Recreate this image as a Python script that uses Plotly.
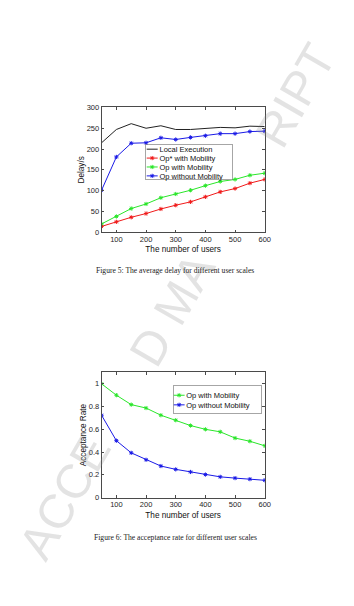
import math
import plotly.graph_objects as go

# ---------------- data ----------------
users = [50, 100, 150, 200, 250, 300, 350, 400, 450, 500, 550, 600]

delay_local = [215, 247, 261, 250, 256, 247, 247, 249, 252, 251, 255, 254]
delay_opstar_mob = [14, 25, 36, 45, 56, 65, 73, 85, 97, 105, 118, 127]
delay_op_mob = [20, 38, 57, 68, 83, 92, 101, 112, 122, 127, 137, 142]
delay_op_nomob = [101, 181, 214, 215, 227, 223, 228, 232, 237, 237, 242, 243]

acc_op_mob = [1.0, 0.90, 0.817, 0.787, 0.724, 0.68, 0.633, 0.60, 0.578, 0.523, 0.495, 0.455]
acc_op_nomob = [0.724, 0.50, 0.393, 0.332, 0.277, 0.248, 0.225, 0.202, 0.182, 0.171, 0.162, 0.152]

x_ticks = [100, 200, 300, 400, 500, 600]
delay_ticks = [0, 50, 100, 150, 200, 250, 300]
acc_ticks = [0, 0.2, 0.4, 0.6, 0.8, 1.0]
acc_ticktext = ["0", "0.2", "0.4", "0.6", "0.8", "1"]

names_delay = ["Local Execution", "Op* with Mobility", "Op with Mobility", "Op without Mobility"]
names_acc = ["Op with Mobility", "Op without Mobility"]

caption5 = "Figure 5: The average delay for different user scales"
caption6 = "Figure 6: The acceptance rate for different user scales"
watermark = "ACCEPTED MANUSCRIPT"

# ---------------- style ----------------
W, H = 354, 606
SANS = "Liberation Sans"
SERIF = "Liberation Serif"
TXT = "#262626"
AXC = "#4a4a4a"
C_BLACK = "#222222"
C_RED = "#f01a1a"
C_GREEN = "#2ae62a"
C_BLUE = "#1a1ae6"


def px_x(v):
    return v / W


def px_y(v):
    return 1 - v / H


fig = go.Figure()

mk = dict(symbol="asterisk-open", size=3.5, line=dict(width=1))


def add_line(x, y, name, color, xa, ya, legend, marker=True):
    fig.add_trace(go.Scatter(
        x=x, y=y, name=name, xaxis=xa, yaxis=ya, legend=legend,
        mode="lines+markers" if marker else "lines",
        line=dict(color=color, width=1),
        marker=dict(color=color, **mk) if marker else None,
    ))


add_line(users, delay_local, names_delay[0], C_BLACK, "x", "y", "legend", marker=False)
add_line(users, delay_opstar_mob, names_delay[1], C_RED, "x", "y", "legend")
add_line(users, delay_op_mob, names_delay[2], C_GREEN, "x", "y", "legend")
add_line(users, delay_op_nomob, names_delay[3], C_BLUE, "x", "y", "legend")

add_line(users, acc_op_mob, names_acc[0], C_GREEN, "x2", "y2", "legend2")
add_line(users, acc_op_nomob, names_acc[1], C_BLUE, "x2", "y2", "legend2")

axis_common = dict(
    showline=True, mirror="ticks", linecolor=AXC, linewidth=0.7,
    ticks="inside", ticklen=2.5, tickwidth=0.6, tickcolor=AXC,
    showgrid=False, zeroline=False,
    tickfont=dict(family=SANS, size=7.5, color=TXT),
)
title_font = dict(family=SANS, size=8.2, color="#111111")

xdom = [px_x(103.3), px_x(269.3)]

fig.update_layout(
    width=W, height=H,
    margin=dict(l=0, r=0, t=0, b=0),
    paper_bgcolor="white", plot_bgcolor="white",
    xaxis=dict(domain=xdom, range=[50, 600], tickvals=x_ticks, anchor="y",
               title=dict(text="The number of users", font=title_font, standoff=3),
               **axis_common),
    yaxis=dict(domain=[px_y(231.7), px_y(105)], range=[0, 300], tickvals=delay_ticks, anchor="x",
               title=dict(text="Delay/s", font=title_font, standoff=0),
               **axis_common),
    xaxis2=dict(domain=xdom, range=[50, 600], tickvals=x_ticks, anchor="y2",
                title=dict(text="The number of users", font=title_font, standoff=3),
                **axis_common),
    yaxis2=dict(domain=[px_y(501), px_y(374)], range=[0, 1.1], tickvals=acc_ticks,
                ticktext=acc_ticktext, anchor="x2",
                title=dict(text="Acceptance Rate", font=title_font, standoff=0),
                **axis_common),
    legend=dict(x=px_x(147.7), y=px_y(142.7), xanchor="left", yanchor="top",
                bgcolor="white", bordercolor="#6a6a6a", borderwidth=0.6,
                font=dict(family=SANS, size=7.5, color="#111111")),
    legend2=dict(x=px_x(175.8), y=px_y(387.3), xanchor="left", yanchor="top",
                 bgcolor="white", bordercolor="#6a6a6a", borderwidth=0.6,
                 font=dict(family=SANS, size=7.5, color="#111111")),
    showlegend=True,
)

# ---------------- watermark (visible parts only) ----------------
adv = {'A': .667, 'C': .722, 'E': .667, 'P': .667, 'T': .611, 'D': .722, ' ': .278,
       'M': .833, 'N': .722, 'U': .722, 'S': .667, 'R': .722, 'I': .278}
WM_F = 48
WM_ANG = 60
WM_CX, WM_CY = 180, 302
total = sum(adv[c] for c in watermark)
dx, dy = math.cos(math.radians(WM_ANG)), -math.sin(math.radians(WM_ANG))
for i, j in [(0, 4), (7, 11), (15, 19)]:
    s = sum(adv[c] for c in watermark[:i])
    g = sum(adv[c] for c in watermark[i:j])
    off = (s + g / 2 - total / 2) * WM_F
    cx, cy = WM_CX + off * dx, WM_CY + off * dy
    fig.add_annotation(
        text=watermark[i:j], x=px_x(cx), y=px_y(cy), xref="paper", yref="paper",
        xanchor="center", yanchor="middle", showarrow=False, textangle=-WM_ANG,
        font=dict(family=SANS, size=WM_F, color="rgba(140,140,140,0.24)"),
    )

# ---------------- captions ----------------
fig.add_annotation(text=caption5, x=px_x(178.3), y=px_y(270.7), xref="paper", yref="paper",
                   xanchor="center", yanchor="middle", showarrow=False,
                   font=dict(family=SERIF, size=7.6, color="#1a1a1a"))
fig.add_annotation(text=caption6, x=px_x(179), y=px_y(542), xref="paper", yref="paper",
                   xanchor="center", yanchor="middle", showarrow=False,
                   font=dict(family=SERIF, size=7.6, color="#1a1a1a"))

# ---------------- compact legend layout (MATLAB-like) ----------------
post = r"""
var gd = document.getElementById('{plot_id}');
var specs = [
  {w: 86.6, h: 35.0, first: 4.6, gap: 8.9, x0: 1.5, len: 11, tx: 14.3},
  {w: 88.0, h: 27.5, first: 9.7, gap: 9.6, x0: 0.8, len: 11, tx: 13.4}
];
function fixLegends(){
  var legs = [];
  gd.querySelectorAll('g.infolayer > g').forEach(function(g){
    if(g.querySelector(':scope > rect.bg') && g.querySelector('g.traces')) legs.push(g);
  });
  legs.sort(function(a, b){
    return a.getBoundingClientRect().top - b.getBoundingClientRect().top;
  });
  legs.forEach(function(lg, li){
    var s = specs[Math.min(li, specs.length - 1)];
    lg.querySelectorAll('g.traces').forEach(function(t, i){
      t.setAttribute('transform', 'translate(0,' + (s.first + s.gap * i) + ')');
      t.querySelectorAll('path.js-line').forEach(function(p){
        p.setAttribute('d', 'M' + s.x0 + ',0h' + s.len);
      });
      t.querySelectorAll('path.scatterpts').forEach(function(p){
        p.setAttribute('transform', 'translate(' + (s.x0 + s.len / 2) + ',0)');
      });
      t.querySelectorAll('text').forEach(function(tx){
        tx.removeAttribute('transform');
        tx.setAttribute('text-anchor', 'start');
        tx.style.textAnchor = 'start';
        tx.setAttribute('x', s.tx);
        tx.querySelectorAll('tspan').forEach(function(ts){
          if(ts.hasAttribute('x')) ts.setAttribute('x', s.tx);
        });
        var bb = tx.getBBox();
        var d = s.tx - bb.x;
        if(Math.abs(d) > 0.5){ tx.setAttribute('transform', 'translate(' + d + ',0)'); }
      });
      var tg = t.querySelector('rect.legendtoggle');
      if(tg){ tg.setAttribute('x', 0); tg.setAttribute('y', -s.gap / 2);
              tg.setAttribute('width', s.w); tg.setAttribute('height', s.gap); }
    });
    var bg = lg.querySelector(':scope > rect.bg');
    if(bg){ bg.setAttribute('width', s.w); bg.setAttribute('height', s.h); }
  });
}
fixLegends();
setTimeout(fixLegends, 60);
setTimeout(fixLegends, 400);
"""

fig.write_html("out.html", post_script=post)
